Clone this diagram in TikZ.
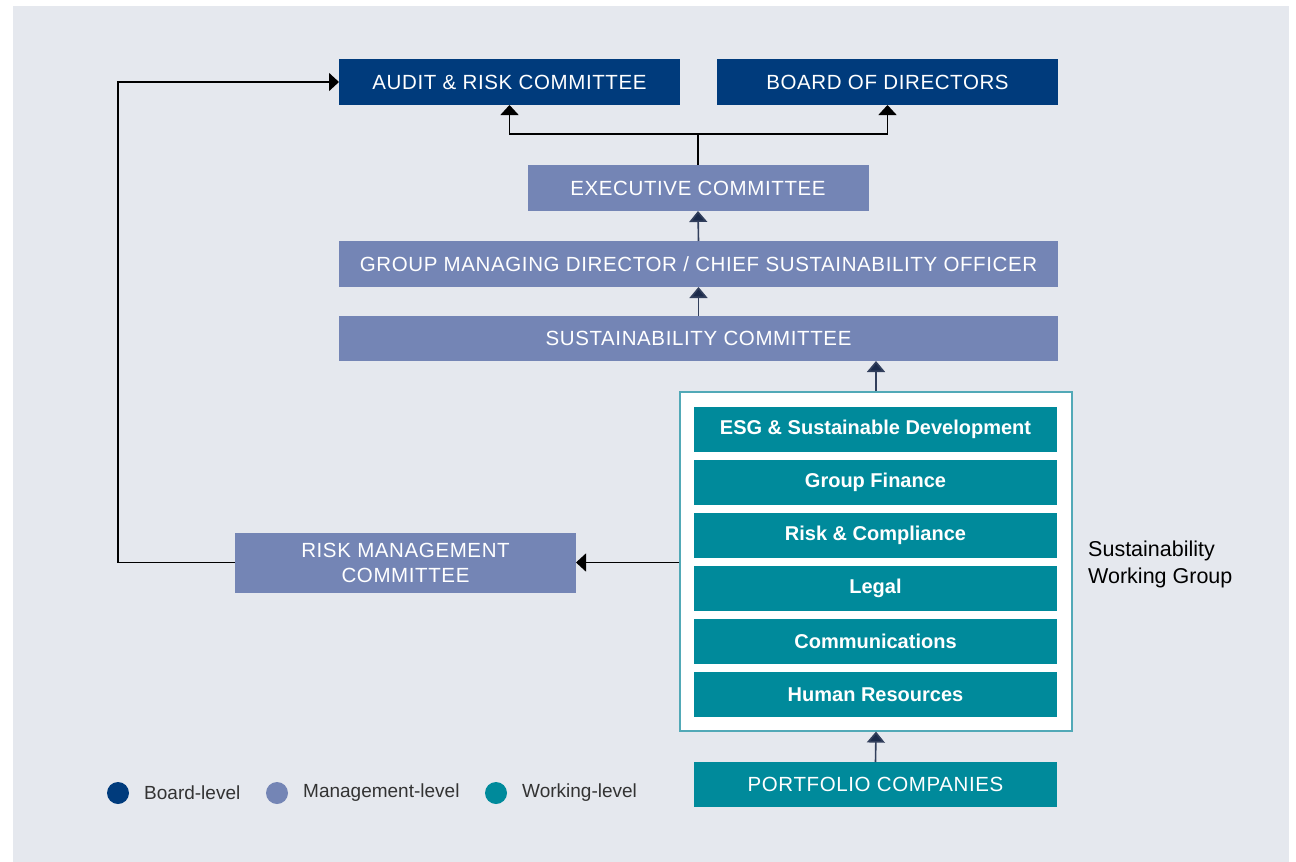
\documentclass[tikz,border=0pt]{standalone}
\usepackage{fontspec}
\setmainfont{Liberation Sans}
\newfontfamily\capsfont[LetterSpace=3]{Liberation Sans}
\usetikzlibrary{arrows.meta}

\definecolor{boardblue}{HTML}{003B7C}
\definecolor{mgmtblue}{HTML}{7485B5}
\definecolor{workteal}{HTML}{008A9B}
\definecolor{panelgray}{HTML}{E5E8EE}
\definecolor{framecyan}{HTML}{52A9B7}
\definecolor{navy}{HTML}{1B2A4A}

\tikzset{
  box/.style={minimum height=46pt, inner sep=0pt, outer sep=0pt,
    text=white, font=\capsfont\fontsize{20.5}{24}\selectfont},
  board/.style={box, fill=boardblue, minimum width=341pt},
  mgmt/.style={box, fill=mgmtblue},
  unit/.style={box, fill=workteal, minimum width=363pt, minimum height=45pt,
    font=\bfseries\fontsize{20}{24}\selectfont},
  link/.style={line width=1.5pt, -{Triangle[width=18pt,length=10pt]}},
  uplink/.style={line width=1.6pt, draw=navy!90!white,
    -{Triangle[width=18pt,length=11pt,fill=navy]}},
  dot/.style={circle, minimum size=22pt, inner sep=0pt},
  key/.style={anchor=west, inner sep=0pt, text=black!80,
    font=\fontsize{19}{23}\selectfont}
}

\begin{document}
\begin{tikzpicture}[x=1pt, y=-1pt]
  \fill[white] (0,0) rectangle (1296,862);
  \fill[panelgray] (13,6) rectangle (1289,862);
  \useasboundingbox (0,0) rectangle (1296,862);

  % top of the chart
  \node[board] (audit) at (509.5,82) {AUDIT \& RISK COMMITTEE};
  \node[board] (directors) at (887.5,82) {BOARD OF DIRECTORS};
  \node[mgmt, minimum width=341pt] (exco) at (698,188) {EXECUTIVE COMMITTEE};
  \node[mgmt, minimum width=719pt] (gmd) at (698.5,264)
    {GROUP MANAGING DIRECTOR / CHIEF SUSTAINABILITY OFFICER};
  \node[mgmt, minimum width=719pt, minimum height=45pt] (susco) at (698.5,338.5)
    {SUSTAINABILITY COMMITTEE};

  % working group
  \node[draw=framecyan, line width=1.2pt, fill=white, minimum width=392pt,
    minimum height=339pt, inner sep=0pt] (swg) at (876,561.5) {};
  \foreach \name/\txt [count=\i from 0] in {esg/ESG \& Sustainable Development,
      finance/Group Finance, compliance/Risk \& Compliance, legal/Legal,
      comms/Communications, hr/Human Resources}
    \node[unit] (\name) at (875.5,429.5+53*\i) {\txt};
  \node[anchor=west, align=left, inner sep=0pt,
    font=\fontsize{21.5}{27}\selectfont] (swglabel) at (1088,564)
    {Sustainability\\Working Group};

  \node[unit, font=\capsfont\fontsize{20.5}{24}\selectfont] (portfolio)
    at (875.5,784.5) {PORTFOLIO COMPANIES};
  \node[mgmt, minimum width=341pt, minimum height=60pt, align=center,
    font=\capsfont\fontsize{20.5}{25}\selectfont] (rmc) at (405.5,562.5)
    {RISK MANAGEMENT\\COMMITTEE};

  % reporting lines
  \coordinate (split) at (698,134);
  \coordinate (loop) at (118,562.5);
  \draw[line width=1.5pt] (exco.north) -- (split);
  \draw[link] (split) -| (audit.south);
  \draw[link] (split) -| (directors.south);
  \draw[uplink] (gmd.north) -- (exco.south);
  \draw[uplink] (susco.north) -- (gmd.south);
  \draw[uplink] (swg.north) -- (swg.north |- susco.south);
  \draw[uplink] (portfolio.north) -- (swg.south);
  \draw[link] (rmc.east -| swg.west) -- (rmc.east);
  \draw[link] (rmc.west) -- (loop) |- (audit.west);

  % legend
  \node[dot, fill=boardblue] (kboard) at (118,793) {};
  \node[key] (tboard) at (144,793) {Board-level};
  \node[dot, fill=mgmtblue] (kmgmt) at (277,793) {};
  \node[key] (tmgmt) at (303,793) {Management-level};
  \node[dot, fill=workteal] (kwork) at (496,793) {};
  \node[key] (twork) at (522,793) {Working-level};
\end{tikzpicture}
\end{document}
